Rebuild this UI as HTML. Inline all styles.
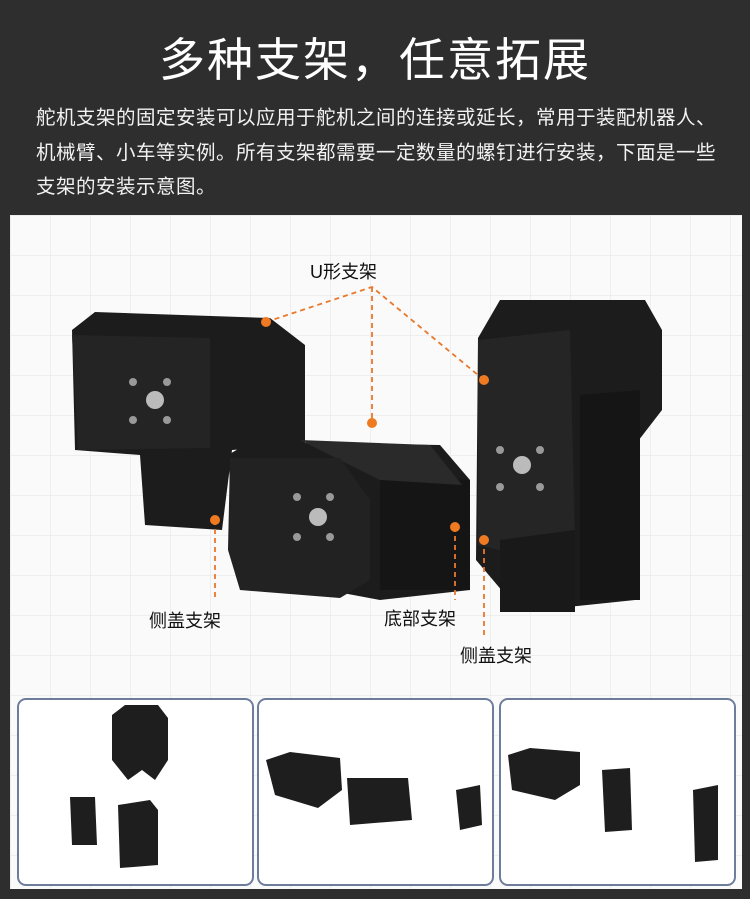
<!DOCTYPE html>
<html><head><meta charset="utf-8"><style>
body{margin:0;width:750px;height:899px;background:#2e2e2e;overflow:hidden;font-family:"Liberation Sans","Noto Sans CJK SC",sans-serif;position:relative}
.t{position:absolute;left:0;width:750px;text-align:center;top:30px;color:#fff;font-size:46px;letter-spacing:2px;line-height:60px}
.p{position:absolute;left:36px;top:101px;width:710px;color:#f2f2f2;font-size:19.5px;letter-spacing:0.5px;line-height:34.5px;white-space:nowrap}
.panel{position:absolute;left:10px;top:215px;width:732px;height:674px;background:#fafafa;
background-image:linear-gradient(#eee 1px,transparent 1px),linear-gradient(90deg,#eee 1px,transparent 1px);background-size:40px 40px}
.box{position:absolute;top:698px;width:233px;height:184px;border:2px solid #6e7d9c;border-radius:9px;background:#fff}
.l{position:absolute;font-size:18px;color:#111}
svg{position:absolute;left:0;top:0}
</style></head><body>
<div class="t">多种支架，任意拓展</div>
<div class="p">舵机支架的固定安装可以应用于舵机之间的连接或延长，常用于装配机器人、<br>机械臂、小车等实例。所有支架都需要一定数量的螺钉进行安装，下面是一些<br>支架的安装示意图。</div>
<div class="panel"></div>
<div class="box" style="left:17px"></div>
<div class="box" style="left:257px"></div>
<div class="box" style="left:499px"></div>
<svg width="750" height="899">
<g fill="#1c1c1c">
<polygon points="72,330 95,312 270,318 305,345 305,445 232,450 222,530 145,525 140,455 75,450"/>
<polygon points="145,440 222,440 222,525 150,525"/>
<polygon points="205,360 228,345 300,345 300,440 232,445"/>
<polygon points="72,335 210,338 210,448 78,450" fill="#242424"/>
<polygon points="228,455 250,442 440,445 470,480 470,590 380,600 300,585 235,545"/>
<polygon points="380,475 470,480 470,590 380,590" fill="#151515"/>
<polygon points="300,440 430,445 462,485 380,480"  fill="#2a2a2a"/>
<polygon points="230,458 340,458 370,500 370,580 340,598 240,590 228,550" fill="#222"/>
<polygon points="478,338 500,300 645,300 662,330 662,410 635,445 635,600 520,612 476,560"/>
<polygon points="580,395 640,390 640,600 580,600" fill="#151515"/>
<polygon points="478,340 570,330 575,545 520,555 478,545" fill="#252525"/>
<polygon points="500,540 575,530 575,612 500,612" fill="#191919"/>
</g>
<g fill="#bbb">
<circle cx="155" cy="400" r="9"/><circle cx="318" cy="517" r="9"/><circle cx="522" cy="465" r="9"/>
</g>
<g fill="#999">
<circle cx="133" cy="382" r="4"/><circle cx="167" cy="382" r="4"/><circle cx="133" cy="420" r="4"/><circle cx="167" cy="420" r="4"/>
<circle cx="297" cy="497" r="4"/><circle cx="330" cy="497" r="4"/><circle cx="297" cy="537" r="4"/><circle cx="330" cy="537" r="4"/>
<circle cx="500" cy="450" r="4"/><circle cx="540" cy="450" r="4"/><circle cx="500" cy="487" r="4"/><circle cx="540" cy="487" r="4"/>
</g>
<g stroke="#e9782a" stroke-width="1.8" stroke-dasharray="5,4" fill="none">
<polyline points="266,322 372,287 484,380"/>
<line x1="372" y1="287" x2="372" y2="423"/>
<line x1="215" y1="520" x2="215" y2="600"/>
<line x1="455" y1="527" x2="455" y2="600"/>
<line x1="484" y1="540" x2="484" y2="636"/>
</g>
<g fill="#ef7a22">
<circle cx="266" cy="322" r="5"/><circle cx="372" cy="423" r="5"/><circle cx="484" cy="380" r="5"/>
<circle cx="215" cy="520" r="5"/><circle cx="455" cy="527" r="5"/><circle cx="484" cy="540" r="5"/>
</g>
<g fill="#1e1e1e">
<polygon points="112,715 125,705 158,705 168,718 168,760 155,780 142,770 128,780 112,760"/>
<polygon points="70,797 95,797 97,845 72,845"/>
<polygon points="118,805 150,800 158,810 158,865 120,868"/>
<polygon points="266,760 290,752 340,758 342,790 318,808 275,795"/>
<polygon points="347,778 408,778 412,820 350,825"/>
<polygon points="456,790 480,785 482,825 460,830"/>
<polygon points="508,755 530,748 580,752 580,785 555,800 512,790"/>
<polygon points="602,770 630,768 632,830 605,832"/>
<polygon points="693,790 718,785 718,860 695,862"/>
</g>
</svg>
<div class="l" style="left:310px;top:258px">U形支架</div>
<div class="l" style="left:149px;top:607px">侧盖支架</div>
<div class="l" style="left:384px;top:605px">底部支架</div>
<div class="l" style="left:460px;top:642px">侧盖支架</div>
</body></html>
